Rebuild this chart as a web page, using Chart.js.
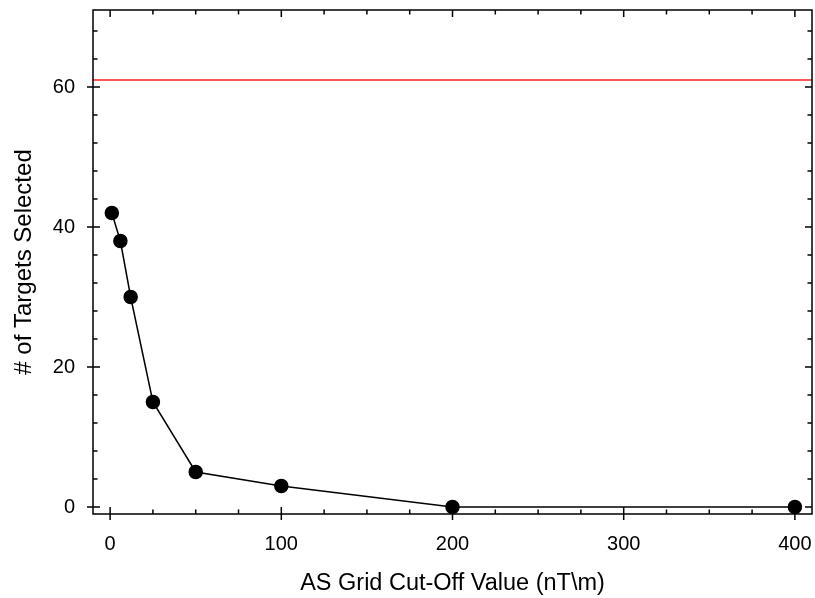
<!DOCTYPE html>
<html>
<head>
<meta charset="utf-8">
<script src="https://cdn.jsdelivr.net/npm/chart.js@4"></script>
<style>
  html, body { margin: 0; padding: 0; background: #ffffff; }
  #wrap { width: 815px; height: 598px; position: relative; }
</style>
</head>
<body>
<div id="wrap"><canvas id="c" width="815" height="598"></canvas></div>
<script>
// ---- data ----
const cutOffValues = [1, 6, 12, 25, 50, 100, 200, 400];
const targetsSelected = [42, 38, 30, 15, 5, 3, 0, 0];
const referenceLevel = 61;
const xTickValues = [0, 100, 200, 300, 400];
const yTickValues = [0, 20, 40, 60];
const xMinorStep = 25;
const yMinorStep = 4;
const xTitle = 'AS Grid Cut-Off Value (nT\\m)';
const yTitle = '# of Targets Selected';

const X_MIN = -10, X_MAX = 410, Y_MIN = -1, Y_MAX = 71;

const points = cutOffValues.map((x, i) => ({ x: x, y: targetsSelected[i] }));
const refPoints = [{ x: X_MIN, y: referenceLevel }, { x: X_MAX, y: referenceLevel }];

const framePlugin = {
  id: 'frame',
  afterDatasetsDraw(chart) {
    const { ctx, chartArea: a, scales } = chart;
    const xs = scales.x, ys = scales.y;
    ctx.save();
    ctx.strokeStyle = '#000';
    ctx.lineWidth = 1.5;
    ctx.strokeRect(a.left, a.top, a.right - a.left, a.bottom - a.top);
    ctx.beginPath();
    for (let v = Math.ceil(X_MIN / xMinorStep) * xMinorStep; v <= X_MAX; v += xMinorStep) {
      const px = xs.getPixelForValue(v);
      const major = xTickValues.includes(v);
      const inLen = major ? 7 : 4.5;
      ctx.moveTo(px, a.bottom + (major ? 6 : 0)); ctx.lineTo(px, a.bottom - inLen);
      ctx.moveTo(px, a.top); ctx.lineTo(px, a.top + inLen);
    }
    for (let v = Math.ceil(Y_MIN / yMinorStep) * yMinorStep; v <= Y_MAX; v += yMinorStep) {
      const py = ys.getPixelForValue(v);
      const major = yTickValues.includes(v);
      const inLen = major ? 7 : 4.5;
      ctx.moveTo(a.left - (major ? 6 : 0), py); ctx.lineTo(a.left + inLen, py);
      ctx.moveTo(a.right, py); ctx.lineTo(a.right - inLen, py);
    }
    ctx.stroke();
    ctx.restore();
  }
};

function zeroPad(s) { s.paddingTop = 0; s.paddingBottom = 0; s.paddingLeft = 0; s.paddingRight = 0; }

const font = 'Liberation Sans, Arial, Helvetica, sans-serif';

new Chart(document.getElementById('c'), {
  type: 'line',
  data: {
    datasets: [
      {
        data: refPoints,
        borderColor: '#ff2020',
        borderWidth: 1.6,
        pointRadius: 0,
        fill: false,
        order: 2
      },
      {
        data: points,
        borderColor: '#000',
        borderWidth: 1.5,
        backgroundColor: '#000',
        pointBackgroundColor: '#000',
        pointBorderColor: '#000',
        pointRadius: 6.5,
        pointHoverRadius: 6.5,
        fill: false,
        clip: false,
        order: 1
      }
    ]
  },
  options: {
    responsive: false,
    animation: false,
    devicePixelRatio: 1,
    layout: { autoPadding: false, padding: { top: 10, right: 3, left: 0, bottom: 0 } },
    plugins: { legend: { display: false }, tooltip: { enabled: false } },
    scales: {
      x: {
        type: 'linear',
        min: X_MIN, max: X_MAX,
        border: { display: false },
        grid: { display: false, drawTicks: false },
        afterBuildTicks: s => { s.ticks = xTickValues.map(v => ({ value: v })); },
        afterFit: s => { s.height = 84; zeroPad(s); },
        ticks: { color: '#000', font: { family: font, size: 20 }, padding: 18, maxRotation: 0 },
        title: { display: true, text: xTitle, color: '#000', font: { family: font, size: 23.5 }, padding: { top: 0, bottom: 0 } }
      },
      y: {
        type: 'linear',
        min: Y_MIN, max: Y_MAX,
        border: { display: false },
        grid: { display: false, drawTicks: false },
        afterBuildTicks: s => { s.ticks = yTickValues.map(v => ({ value: v })); },
        afterFit: s => { s.width = 93; zeroPad(s); },
        ticks: { color: '#000', font: { family: font, size: 20 }, padding: 18 },
        title: { display: true, text: yTitle, color: '#000', font: { family: font, size: 24 }, padding: { top: 10, bottom: 0 } }
      }
    }
  },
  plugins: [framePlugin]
});
</script>
</body>
</html>
